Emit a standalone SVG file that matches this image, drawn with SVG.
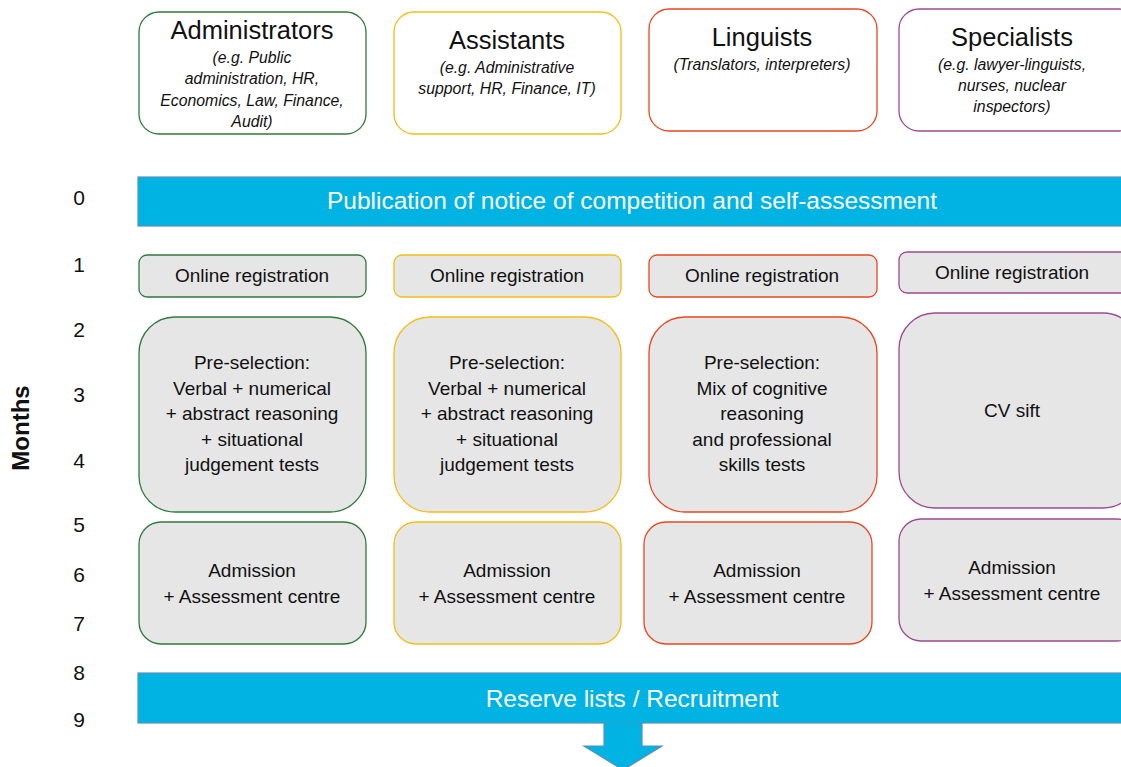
<svg xmlns="http://www.w3.org/2000/svg" width="1121" height="767" viewBox="0 0 1121 767">
  <style>
    text { font-family: "Liberation Sans", "Open Sans", sans-serif; fill: #111; text-anchor: middle; }
    .title { font-size: 25.5px; }
    .sub { font-size: 15.8px; font-style: italic; }
    .step { font-size: 19px; }
    .month { font-size: 21px; }
    .axis { font-size: 24px; font-weight: bold; }
    .bartext { font-size: 24.5px; fill: #ffffff; }
    .hdr { fill: #ffffff; stroke-width: 1.3; }
    .box { fill: #e6e6e6; stroke-width: 1.3; }
    .green { stroke: #2f7a3c; }
    .yellow { stroke: #f5bd13; }
    .red { stroke: #e8471f; }
    .purple { stroke: #9b4a93; }
    .bar { fill: #00b3e3; stroke: #5b8fb8; stroke-width: 1.2; }
  </style>

  <!-- time axis -->
  <g id="axis">
    <text class="axis" transform="translate(29 428) rotate(-90)">Months</text>
    <text class="month" x="79" y="205">0</text>
    <text class="month" x="79" y="272">1</text>
    <text class="month" x="79" y="337">2</text>
    <text class="month" x="79" y="402">3</text>
    <text class="month" x="79" y="468">4</text>
    <text class="month" x="79" y="532">5</text>
    <text class="month" x="79" y="582">6</text>
    <text class="month" x="79" y="631">7</text>
    <text class="month" x="79" y="680">8</text>
    <text class="month" x="79" y="727">9</text>
  </g>

  <!-- profile headers -->
  <g id="hdr-administrators">
    <rect class="hdr green" x="139" y="12" width="227" height="122" rx="20"/>
    <text class="title" x="252" y="39">Administrators</text>
    <text class="sub" x="252" y="63">(e.g. Public</text>
    <text class="sub" x="252" y="84">administration, HR,</text>
    <text class="sub" x="252" y="106">Economics, Law, Finance,</text>
    <text class="sub" x="252" y="127">Audit)</text>
  </g>
  <g id="hdr-assistants">
    <rect class="hdr yellow" x="394" y="12" width="227" height="122" rx="20"/>
    <text class="title" x="507" y="49">Assistants</text>
    <text class="sub" x="507" y="73">(e.g. Administrative</text>
    <text class="sub" x="507" y="94">support, HR, Finance, IT)</text>
  </g>
  <g id="hdr-linguists">
    <rect class="hdr red" x="649" y="9" width="228" height="122" rx="20"/>
    <text class="title" x="762" y="46">Linguists</text>
    <text class="sub" x="762" y="70">(Translators, interpreters)</text>
  </g>
  <g id="hdr-specialists">
    <rect class="hdr purple" x="899" y="9" width="240" height="122" rx="20"/>
    <text class="title" x="1012" y="46">Specialists</text>
    <text class="sub" x="1012" y="70">(e.g. lawyer-linguists,</text>
    <text class="sub" x="1012" y="91">nurses, nuclear</text>
    <text class="sub" x="1012" y="112">inspectors)</text>
  </g>

  <!-- publication bar -->
  <g id="publication">
    <rect class="bar" x="138" y="177" width="1000" height="49"/>
    <text class="bartext" x="632" y="209">Publication of notice of competition and self-assessment</text>
  </g>

  <!-- online registration -->
  <g id="reg-administrators">
    <rect class="box green" x="139" y="255" width="227" height="42" rx="8"/>
    <text class="step" x="252" y="282">Online registration</text>
  </g>
  <g id="reg-assistants">
    <rect class="box yellow" x="394" y="255" width="227" height="42" rx="8"/>
    <text class="step" x="507" y="282">Online registration</text>
  </g>
  <g id="reg-linguists">
    <rect class="box red" x="649" y="255" width="228" height="42" rx="8"/>
    <text class="step" x="762" y="282">Online registration</text>
  </g>
  <g id="reg-specialists">
    <rect class="box purple" x="899" y="252" width="240" height="41" rx="8"/>
    <text class="step" x="1012" y="279">Online registration</text>
  </g>

  <!-- pre-selection -->
  <g id="pre-administrators">
    <rect class="box green" x="139" y="317" width="227" height="195" rx="36"/>
    <text class="step" x="252" y="369">Pre-selection:</text>
    <text class="step" x="252" y="395">Verbal + numerical</text>
    <text class="step" x="252" y="420">+ abstract reasoning</text>
    <text class="step" x="252" y="446">+ situational</text>
    <text class="step" x="252" y="471">judgement tests</text>
  </g>
  <g id="pre-assistants">
    <rect class="box yellow" x="394" y="317" width="227" height="195" rx="36"/>
    <text class="step" x="507" y="369">Pre-selection:</text>
    <text class="step" x="507" y="395">Verbal + numerical</text>
    <text class="step" x="507" y="420">+ abstract reasoning</text>
    <text class="step" x="507" y="446">+ situational</text>
    <text class="step" x="507" y="471">judgement tests</text>
  </g>
  <g id="pre-linguists">
    <rect class="box red" x="649" y="317" width="228" height="195" rx="36"/>
    <text class="step" x="762" y="369">Pre-selection:</text>
    <text class="step" x="762" y="395">Mix of cognitive</text>
    <text class="step" x="762" y="420">reasoning</text>
    <text class="step" x="762" y="446">and professional</text>
    <text class="step" x="762" y="471">skills tests</text>
  </g>
  <g id="cv-specialists">
    <rect class="box purple" x="899" y="313" width="240" height="195" rx="36"/>
    <text class="step" x="1012" y="417">CV sift</text>
  </g>

  <!-- admission and assessment centre -->
  <g id="adm-administrators">
    <rect class="box green" x="139" y="522" width="227" height="122" rx="22"/>
    <text class="step" x="252" y="577">Admission</text>
    <text class="step" x="252" y="603">+ Assessment centre</text>
  </g>
  <g id="adm-assistants">
    <rect class="box yellow" x="394" y="522" width="227" height="122" rx="22"/>
    <text class="step" x="507" y="577">Admission</text>
    <text class="step" x="507" y="603">+ Assessment centre</text>
  </g>
  <g id="adm-linguists">
    <rect class="box red" x="644" y="522" width="228" height="122" rx="22"/>
    <text class="step" x="757" y="577">Admission</text>
    <text class="step" x="757" y="603">+ Assessment centre</text>
  </g>
  <g id="adm-specialists">
    <rect class="box purple" x="899" y="519" width="240" height="122" rx="22"/>
    <text class="step" x="1012" y="574">Admission</text>
    <text class="step" x="1012" y="600">+ Assessment centre</text>
  </g>

  <!-- reserve lists bar -->
  <g id="reserve">
    <rect class="bar" x="138" y="673" width="1000" height="50"/>
    <text class="bartext" x="632" y="707">Reserve lists / Recruitment</text>
  </g>

  <!-- outgoing arrow -->
  <g id="connectors">
    <path class="bar" d="M604 723 V746 H584 L623 770 L662 746 H642 V723"/>
  </g>
</svg>
